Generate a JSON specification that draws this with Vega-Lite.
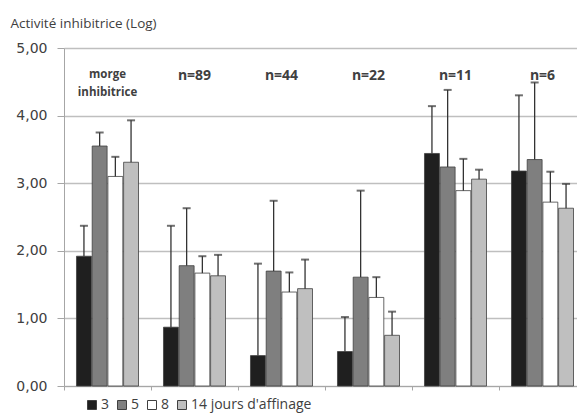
{
  "$schema": "https://vega.github.io/schema/vega-lite/v6.json",
  "width": 513,
  "height": 338,
  "autosize": {"type": "none"},
  "padding": {"left": 64, "top": 48, "right": 0, "bottom": 28},
  "background": "white",
  "config": {"view": {"stroke": null}, "font": "DejaVu Sans"},
  "datasets": {
    "bars": [
      {"groupe": "morge", "jours": "3", "valeur": 1.92, "erreur": 2.37},
      {"groupe": "morge", "jours": "5", "valeur": 3.55, "erreur": 3.75},
      {"groupe": "morge", "jours": "8", "valeur": 3.10, "erreur": 3.39},
      {"groupe": "morge", "jours": "14", "valeur": 3.31, "erreur": 3.93},
      {"groupe": "n89", "jours": "3", "valeur": 0.87, "erreur": 2.37},
      {"groupe": "n89", "jours": "5", "valeur": 1.78, "erreur": 2.63},
      {"groupe": "n89", "jours": "8", "valeur": 1.67, "erreur": 1.92},
      {"groupe": "n89", "jours": "14", "valeur": 1.63, "erreur": 1.94},
      {"groupe": "n44", "jours": "3", "valeur": 0.45, "erreur": 1.81},
      {"groupe": "n44", "jours": "5", "valeur": 1.70, "erreur": 2.74},
      {"groupe": "n44", "jours": "8", "valeur": 1.39, "erreur": 1.68},
      {"groupe": "n44", "jours": "14", "valeur": 1.44, "erreur": 1.87},
      {"groupe": "n22", "jours": "3", "valeur": 0.51, "erreur": 1.02},
      {"groupe": "n22", "jours": "5", "valeur": 1.61, "erreur": 2.89},
      {"groupe": "n22", "jours": "8", "valeur": 1.31, "erreur": 1.61},
      {"groupe": "n22", "jours": "14", "valeur": 0.75, "erreur": 1.10},
      {"groupe": "n11", "jours": "3", "valeur": 3.44, "erreur": 4.14},
      {"groupe": "n11", "jours": "5", "valeur": 3.24, "erreur": 4.38},
      {"groupe": "n11", "jours": "8", "valeur": 2.89, "erreur": 3.36},
      {"groupe": "n11", "jours": "14", "valeur": 3.06, "erreur": 3.20},
      {"groupe": "n6", "jours": "3", "valeur": 3.18, "erreur": 4.30},
      {"groupe": "n6", "jours": "5", "valeur": 3.35, "erreur": 4.49},
      {"groupe": "n6", "jours": "8", "valeur": 2.72, "erreur": 3.17},
      {"groupe": "n6", "jours": "14", "valeur": 2.63, "erreur": 2.99}
    ],
    "labels": [
      {"groupe": "morge", "texte": "morge\ninhibitrice"},
      {"groupe": "n89", "texte": "n=89"},
      {"groupe": "n44", "texte": "n=44"},
      {"groupe": "n22", "texte": "n=22"},
      {"groupe": "n11", "texte": "n=11"},
      {"groupe": "n6", "texte": "n=6"}
    ]
  },
  "layer": [
    {
      "data": {"name": "bars"},
      "mark": {"type": "bar", "stroke": "#404040", "strokeWidth": 0.8},
      "encoding": {
        "x": {
          "field": "groupe", "type": "nominal", "sort": null,
          "scale": {"range": [0, 522], "paddingInner": 0.287, "paddingOuter": 0.1435},
          "axis": {"title": null, "labels": false, "bandPosition": -0.2, "tickSize": 4, "tickColor": "#a6a6a6", "domainColor": "#a6a6a6", "grid": false}
        },
        "xOffset": {"field": "jours", "type": "nominal", "sort": null, "scale": {"paddingInner": 0.05}},
        "y": {
          "field": "valeur", "type": "quantitative",
          "scale": {"domain": [0, 5], "nice": false},
          "axis": {
            "values": [0, 1, 2, 3, 4, 5],
            "labelExpr": "replace(format(datum.value, '.2f'), '.', ',')",
            "title": "Activité inhibitrice (Log)",
            "titleAngle": 0, "titleX": -54, "titleY": -21,
            "titleAlign": "left", "titleBaseline": "alphabetic",
            "titleFont": "Open Sans", "titleFontSize": 13.5, "titleFontWeight": "normal", "titleColor": "#404040",
            "labelFont": "DejaVu Sans", "labelFontSize": 14, "labelColor": "#404040", "labelPadding": 10,
            "tickSize": 7, "tickColor": "#a6a6a6", "domainColor": "#a6a6a6",
            "gridColor": "#bfbfbf", "gridWidth": 1.3
          }
        },
        "color": {
          "field": "jours", "type": "nominal", "sort": null,
          "scale": {"domain": ["3", "5", "8", "14"], "range": ["#1f1f1f", "#7f7f7f", "#ffffff", "#bfbfbf"]},
          "legend": {
            "orient": "none", "legendX": 21, "legendY": 350, "direction": "horizontal", "title": null,
            "symbolType": "square", "symbolSize": 81, "symbolStrokeColor": "#404040", "symbolStrokeWidth": 1,
            "labelFont": "Open Sans", "labelFontSize": 14, "labelColor": "#404040", "labelOffset": 2, "columnPadding": 5,
            "labelExpr": "datum.label == '14' ? \"14 jours d'affinage\" : datum.label"
          }
        }
      }
    },
    {
      "data": {"name": "bars"},
      "mark": {"type": "rule", "color": "#333333", "strokeWidth": 1.3},
      "encoding": {
        "x": {"field": "groupe", "type": "nominal", "sort": null},
        "xOffset": {"field": "jours", "type": "nominal", "sort": null},
        "y": {"field": "valeur", "type": "quantitative"},
        "y2": {"field": "erreur"}
      }
    },
    {
      "data": {"name": "bars"},
      "mark": {"type": "tick", "color": "#333333", "size": 8, "thickness": 2},
      "encoding": {
        "x": {"field": "groupe", "type": "nominal", "sort": null},
        "xOffset": {"field": "jours", "type": "nominal", "sort": null},
        "y": {"field": "erreur", "type": "quantitative"}
      }
    },
    {
      "data": {"name": "labels"},
      "transform": [{"filter": "datum.groupe == 'morge'"}],
      "mark": {"type": "text", "font": "Open Sans", "fontWeight": "bold", "fontSize": 11.5, "color": "#404040", "lineBreak": "\n", "lineHeight": 18, "baseline": "middle"},
      "encoding": {
        "x": {"field": "groupe", "type": "nominal", "sort": null},
        "y": {"datum": 4.6},
        "text": {"field": "texte"}
      }
    },
    {
      "data": {"name": "labels"},
      "transform": [{"filter": "datum.groupe != 'morge'"}],
      "mark": {"type": "text", "font": "Open Sans", "fontWeight": "bold", "fontSize": 14, "color": "#404040", "baseline": "middle"},
      "encoding": {
        "x": {"field": "groupe", "type": "nominal", "sort": null},
        "y": {"datum": 4.58},
        "text": {"field": "texte"}
      }
    }
  ]
}
